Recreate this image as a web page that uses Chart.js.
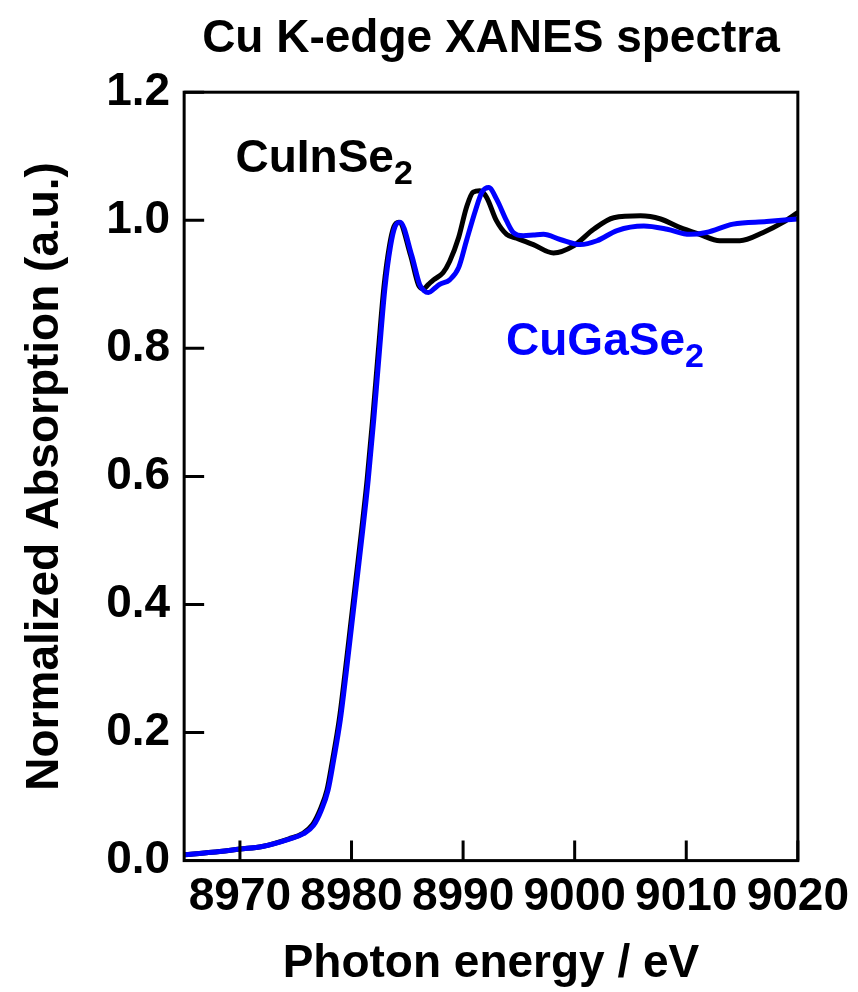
<!DOCTYPE html>
<html>
<head>
<meta charset="utf-8">
<title>Cu K-edge XANES spectra</title>
<script src="https://cdn.jsdelivr.net/npm/chart.js@4.4.1/dist/chart.umd.min.js"></script>
<style>
  html, body { margin: 0; padding: 0; background: #fff; }
  #chart { display: block; }
</style>
</head>
<body>
<canvas id="chart" width="858" height="992"></canvas>
<script>
var FONT = '"Liberation Sans", Arial, Helvetica, sans-serif';

// spectra (photon energy in eV, normalized absorption)
var energyCuInSe2 = [8965, 8967.5, 8970, 8972, 8974.4, 8975.6, 8976.5, 8977.2, 8977.8, 8978.3,
  8978.9, 8979.4, 8979.9, 8980.4, 8980.9, 8981.4, 8981.9, 8982.4, 8982.9, 8983.4,
  8983.8, 8984.25, 8985.3, 8986.0, 8986.45, 8986.9, 8987.35, 8988.2,
  8988.8, 8989.6, 8990.3, 8990.9, 8991.5, 8992.1, 8993.0, 8993.9, 8994.8, 8996.3,
  8998.1, 8999.9, 9001.7, 9003.5, 9005.9, 9007.7, 9009.4, 9011.2, 9013.0, 9014.8,
  9016.9, 9018.7, 9020];
var absCuInSe2 = [0.009, 0.013, 0.018, 0.022, 0.034, 0.042, 0.056, 0.08, 0.11, 0.157,
  0.22, 0.29, 0.365, 0.44, 0.515, 0.595, 0.69, 0.795, 0.895, 0.96,
  0.99, 0.997, 0.945, 0.899, 0.893, 0.90, 0.907, 0.918,
  0.936, 0.973, 1.02, 1.044, 1.046, 1.036, 0.999, 0.978, 0.972, 0.962,
  0.949, 0.96, 0.986, 1.004, 1.007, 1.002, 0.989, 0.978, 0.968, 0.968,
  0.981, 0.997, 1.012];

var energyCuGaSe2 = [8965, 8967.5, 8970, 8972, 8974.5, 8975.7, 8976.6, 8977.3, 8977.9, 8978.4,
  8979.0, 8979.5, 8980.0, 8980.5, 8981.0, 8981.5, 8982.0, 8982.5, 8983.0, 8983.5,
  8983.9, 8984.35, 8985.4, 8986.1, 8986.5, 8986.9, 8987.4, 8987.9,
  8988.8, 8989.6, 8990.3, 8991.1, 8991.7, 8992.3, 8993.0, 8993.9, 8994.5, 8995.4,
  8996.3, 8997.2, 8998.7, 9000.5, 9002.0, 9003.8, 9006.2, 9008.3, 9010.3, 9011.8,
  9014.2, 9017.2, 9020];
var absCuGaSe2 = [0.009, 0.013, 0.018, 0.022, 0.034, 0.042, 0.055, 0.079, 0.11, 0.157,
  0.22, 0.29, 0.365, 0.44, 0.515, 0.595, 0.69, 0.795, 0.895, 0.96,
  0.99, 0.997, 0.945, 0.90, 0.89, 0.887, 0.893, 0.90,
  0.907, 0.926, 0.968, 1.015, 1.044, 1.051, 1.033, 0.999, 0.981, 0.976,
  0.977, 0.978, 0.97, 0.962, 0.968, 0.984, 0.991, 0.986, 0.978, 0.981,
  0.994, 0.998, 1.002];

var xTickValues = [8970, 8980, 8990, 9000, 9010, 9020];
var xTickLabels = ['8970', '8980', '8990', '9000', '9010', '9020'];
var yTickValues = [0, 0.2, 0.4, 0.6, 0.8, 1.0, 1.2];
var yTickLabels = ['0.0', '0.2', '0.4', '0.6', '0.8', '1.0', '1.2'];

function toPoints(xs, ys) {
  return xs.map(function (x, i) { return { x: x, y: ys[i] }; });
}

function fixedTicks(values) {
  return function (axis) {
    axis.ticks = values.map(function (v) { return { value: v }; });
  };
}

// closed frame with inward ticks, plus the in-plot sample labels
var framePlugin = {
  id: 'frame',
  afterDatasetsDraw: function (chart) {
    var ctx = chart.ctx;
    var a = chart.chartArea;
    var xs = chart.scales.x, ys = chart.scales.y;
    var tick = 20;
    ctx.save();
    ctx.strokeStyle = '#000';
    ctx.lineWidth = 3;
    ctx.lineCap = 'butt';
    ctx.strokeRect(a.left, a.top, a.right - a.left, a.bottom - a.top);
    ctx.beginPath();
    xTickValues.forEach(function (v) {
      var px = xs.getPixelForValue(v);
      ctx.moveTo(px, a.bottom);
      ctx.lineTo(px, a.bottom - tick);
    });
    yTickValues.forEach(function (v) {
      var py = ys.getPixelForValue(v);
      ctx.moveTo(a.left, py);
      ctx.lineTo(a.left + tick, py);
    });
    ctx.stroke();

    var labels = chart.options.plugins.frame.labels;
    labels.forEach(function (l) {
      var px = xs.getPixelForValue(l.x);
      var py = ys.getPixelForValue(l.y);
      ctx.fillStyle = l.color;
      ctx.textAlign = 'left';
      ctx.textBaseline = 'alphabetic';
      ctx.font = 'bold 46px ' + FONT;
      ctx.fillText(l.text, px, py);
      var w = ctx.measureText(l.text).width;
      ctx.font = 'bold 34px ' + FONT;
      ctx.fillText(l.sub, px + w, py + 12);
    });
    ctx.restore();
  }
};

new Chart(document.getElementById('chart'), {
  type: 'line',
  data: {
    datasets: [{
      label: 'CuGaSe2',
      data: toPoints(energyCuGaSe2, absCuGaSe2),
      borderColor: '#0000ff',
      borderWidth: 5,
      pointRadius: 0,
      cubicInterpolationMode: 'monotone',
      borderCapStyle: 'round',
      borderJoinStyle: 'round',
    }, {
      label: 'CuInSe2',
      data: toPoints(energyCuInSe2, absCuInSe2),
      borderColor: '#000000',
      borderWidth: 5,
      pointRadius: 0,
      cubicInterpolationMode: 'monotone',
      borderCapStyle: 'round',
      borderJoinStyle: 'round',
    }],
  },
  options: {
    responsive: false,
    animation: false,
    devicePixelRatio: 1,
    layout: { padding: { left: 18, right: 58, top: 0, bottom: 0 } },
    plugins: {
      legend: { display: false },
      tooltip: { enabled: false },
      title: {
        display: true,
        fullSize: false,
        text: 'Cu K-edge XANES spectra',
        color: '#000',
        font: { family: FONT, size: 46, weight: 'bold' },
        padding: { top: 12, bottom: 25 },
      },
      frame: {
        labels: [
          { text: 'CuInSe', sub: '2', x: 8969.6, y: 1.075, color: '#000000' },
          { text: 'CuGaSe', sub: '2', x: 8993.85, y: 0.789, color: '#0000ff' },
        ],
      },
    },
    scales: {
      x: {
        type: 'linear',
        min: 8965,
        max: 9020,
        afterBuildTicks: fixedTicks(xTickValues),
        grid: { display: false, drawTicks: false },
        border: { display: false },
        ticks: {
          autoSkip: false,
          maxRotation: 0,
          padding: 9,
          color: '#000',
          font: { family: FONT, size: 46, weight: 'bold' },
          callback: function (value, index) { return xTickLabels[index]; },
        },
        title: {
          display: true,
          text: 'Photon energy / eV',
          color: '#000',
          font: { family: FONT, size: 46, weight: 'bold' },
          padding: { top: 3, bottom: 0 },
        },
      },
      y: {
        type: 'linear',
        min: 0,
        max: 1.2,
        afterBuildTicks: fixedTicks(yTickValues),
        grid: { display: false, drawTicks: false },
        border: { display: false },
        ticks: {
          autoSkip: false,
          padding: 14,
          color: '#000',
          font: { family: FONT, size: 46, weight: 'bold' },
          callback: function (value, index) { return yTickLabels[index]; },
        },
        title: {
          display: true,
          text: 'Normalized Absorption (a.u.)',
          color: '#000',
          font: { family: FONT, size: 46, weight: 'bold' },
          padding: { top: 0, bottom: 19 },
        },
      },
    },
  },
  plugins: [framePlugin],
});
</script>
</body>
</html>
